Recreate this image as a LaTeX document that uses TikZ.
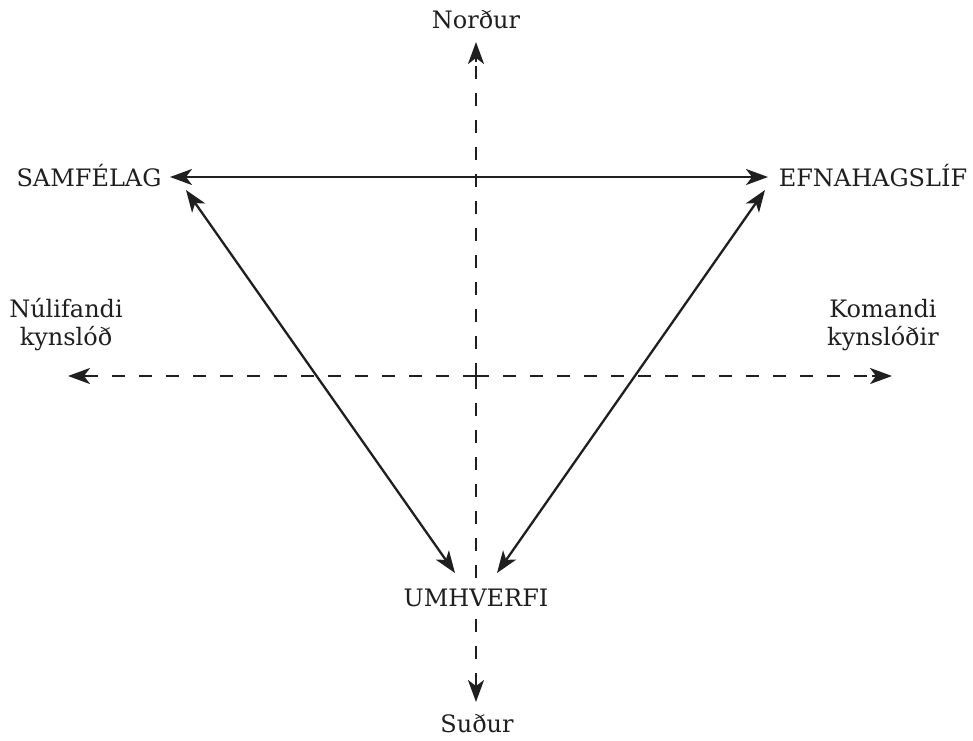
\documentclass[tikz,border=0pt]{standalone}
\usepackage{fontspec}
\setmainfont{DejaVu Serif}
\usetikzlibrary{arrows.meta}
\begin{document}
\begin{tikzpicture}[x=1pt,y=-1pt,
  lbl/.style={font=\fontsize{24}{28}\selectfont, text=black!88, inner sep=0pt, align=center},
  tip/.style={-{Stealth[length=22pt,width=16pt,inset=6pt]}},
  bitip/.style={{Stealth[length=22pt,width=16pt,inset=6pt]}-{Stealth[length=22pt,width=16pt,inset=6pt]}},
  solidln/.style={line width=2.3pt, black!88},
  dashln/.style={line width=2.5pt, black!88, dash pattern=on 13pt off 14pt}]
\useasboundingbox (0,0) rectangle (973,740);
% coordinates
\coordinate (vtop) at (476,42);
\coordinate (vbot) at (476,702);
\coordinate (hl) at (68,376);
\coordinate (hr) at (892,376);
\coordinate (sl) at (170,177);
\coordinate (sr) at (768,177);
\coordinate (dl1) at (186,190);
\coordinate (dl2) at (455,573);
\coordinate (dr1) at (765,190);
\coordinate (dr2) at (497,573);
% axes
\draw[dashln] (476,376) -- (476,62);
\draw[dashln] (476,376) -- (476,682);
\draw[dashln] (476,376) -- (88,376);
\draw[dashln] (476,376) -- (872,376);
\draw[solidln, tip] (476,62) -- (vtop);
\draw[solidln, tip] (476,682) -- (vbot);
\draw[solidln, tip] (88,376) -- (hl);
\draw[solidln, tip] (872,376) -- (hr);
% labels
\node[lbl] (nord) at (476,20) {Norður};
\node[lbl] (sud) at (477,724) {Suður};
\node[lbl] (samf) at (89,176) {SAMFÉLAG};
\node[lbl] (efna) at (873,176) {EFNAHAGSLÍF};
\node[lbl, fill=white, inner sep=2pt] (umhv) at (476,598) {UMHVERFI};
\node[lbl] (nul) at (66,325) {Núlifandi\\kynslóð};
\node[lbl] (kom) at (883,325) {Komandi\\kynslóðir};
% triangle
\draw[solidln, bitip] (sl) -- (sr);
\draw[solidln, bitip] (dl1) -- (dl2);
\draw[solidln, bitip] (dr1) -- (dr2);
\end{tikzpicture}
\end{document}
